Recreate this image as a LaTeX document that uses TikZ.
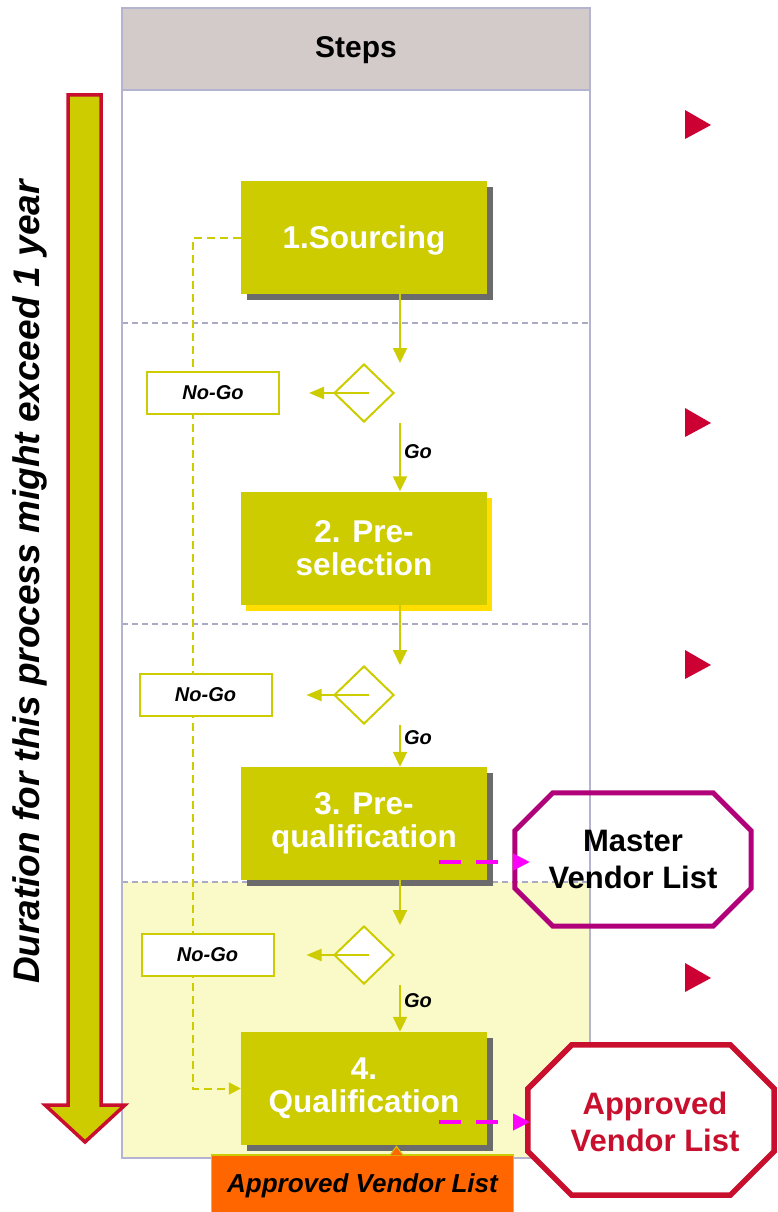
\documentclass[tikz,border=0pt]{standalone}
\usepackage{fontspec}
\setmainfont{Liberation Sans}
\usetikzlibrary{shapes.geometric,arrows.meta,calc,shadows}

\definecolor{olive}{RGB}{204,204,0}
\definecolor{goldshadow}{RGB}{255,222,0}
\definecolor{paleyellow}{RGB}{250,250,200}
\definecolor{headgray}{RGB}{211,202,202}
\definecolor{frameblue}{RGB}{180,180,208}
\definecolor{sepblue}{RGB}{170,170,196}
\definecolor{crimson}{RGB}{200,16,46}
\definecolor{plum}{RGB}{176,0,122}
\definecolor{hotpink}{RGB}{255,0,255}
\definecolor{tangerine}{RGB}{255,102,0}
\definecolor{markred}{RGB}{204,0,51}

\begin{document}
\begin{tikzpicture}[x=1pt,y=-1pt,
  stepbox/.style={fill=olive, text=white, minimum width=246pt, minimum height=113pt,
    inner sep=0pt, align=center, font=\fontsize{31.5}{33}\selectfont\bfseries},
  grayshade/.style={drop shadow={shadow xshift=6pt, shadow yshift=-6pt, fill=black!58, opacity=1}},
  goldshade/.style={drop shadow={shadow xshift=5pt, shadow yshift=-6pt, fill=goldshadow, opacity=1}},
  decision/.style={diamond, draw=olive, line width=2pt, fill=white,
    minimum width=60pt, minimum height=58pt, inner sep=0pt},
  nogo/.style={draw=olive, line width=2pt, fill=white, minimum width=132pt,
    minimum height=42pt, inner sep=0pt, font=\fontsize{20}{22}\selectfont\bfseries\itshape},
  golabel/.style={font=\fontsize{20}{22}\selectfont\bfseries\itshape, right, inner sep=3pt},
  flowline/.style={draw=olive, line width=2pt, -{Triangle[length=15pt,width=14pt]}},
  sideline/.style={draw=olive, line width=2pt, -{Triangle[length=15pt,width=12pt]}},
  returnline/.style={draw=olive, line width=2pt, dash pattern=on 8pt off 5pt,
    -{Triangle[length=12pt,width=12pt]}},
  linkarrow/.style={draw=hotpink, line width=4pt, dash pattern=on 22pt off 15pt,
    -{Triangle[length=17pt,width=16pt]}},
  listlabel/.style={minimum width=236pt, minimum height=133pt, inner sep=0pt, align=center,
    font=\fontsize{31}{37}\selectfont\bfseries},
  separator/.style={draw=sepblue, line width=1.8pt, dash pattern=on 6pt off 4pt},
  marker/.style={fill=markred},
]
\useasboundingbox (0,0) rectangle (777,1212);

% steps column
\fill[paleyellow] (122,882) rectangle (590,1158);
\fill[headgray] (122,8) rectangle (590,90);
\draw[separator] (122,323) -- (590,323);
\draw[separator] (122,624) -- (590,624);
\draw[separator] (122,882) -- (590,882);
\draw[frameblue, line width=2.2pt] (122,90) -- (590,90);
\draw[frameblue, line width=2.2pt] (122,8) rectangle (590,1158);
\node[font=\fontsize{30}{32}\selectfont\bfseries] (head) at (356,50) {Steps};

% duration arrow
\draw[crimson, line width=3.5pt, fill=olive, line join=miter]
  (68,95) -- (101,95) -- (101,1105) -- (125,1105) -- (85,1142) -- (45,1105) -- (68,1105) -- cycle;
\node[rotate=90, font=\fontsize{37}{40}\selectfont\bfseries\itshape] (dur) at (30,582)
  {Duration for this process might exceed 1 year};

% side markers
\fill[marker] (685,110) -- (711,125) -- (685,139) -- cycle;
\fill[marker] (685,408) -- (711,423) -- (685,437) -- cycle;
\fill[marker] (685,650) -- (711,665) -- (685,679) -- cycle;
\fill[marker] (685,963) -- (711,978) -- (685,992) -- cycle;

% node placement
\node[stepbox, grayshade] (s1) at (364,237.5) {\raisebox{0pt}[\height][0pt]{1.Sourcing}};
\node[stepbox, goldshade] (s2) at (364,548) {2. Pre-\\selection};
\node[stepbox, grayshade] (s3) at (364,823.5) {3. Pre-\\qualification};
\node[stepbox, grayshade] (s4) at (364,1088.5) {4.\\Qualification};

\node[decision] (d1) at (364,393) {};
\node[decision] (d2) at (364,695) {};
\node[decision] (d3) at (364,955) {};

% return path for rejected vendors
\coordinate (r) at (193,237.5);
\draw[returnline] (s1.west) -- (r) |- (s4.west);

\node[nogo] (n1) at (213,393) {No-Go};
\node[nogo] (n2) at (205.5,695) {No-Go};
\node[nogo] (n3) at (207.5,955) {No-Go};

% main flow
\draw[flowline] ([xshift=36pt]s1.south) -- ([xshift=36pt]s1.south |- d1.north);
\draw[flowline] ([xshift=36pt]d1.south) -- node[golabel, pos=0.42] {Go} ([xshift=36pt]s2.north);
\draw[flowline] ([xshift=36pt]s2.south) -- ([xshift=36pt]s2.south |- d2.north);
\draw[flowline] ([xshift=36pt]d2.south) -- node[golabel, pos=0.3] {Go} ([xshift=36pt]s3.north);
\draw[flowline] ([xshift=36pt]s3.south) -- ([xshift=36pt]s3.south |- d3.north);
\draw[flowline] ([xshift=36pt]d3.south) -- node[golabel, pos=0.33] {Go} ([xshift=36pt]s4.north);

\draw[sideline] ($(d1.center)+(5,0)$) -- ($(n1.east)+(29,0)$);
\draw[sideline] ($(d2.center)+(5,0)$) -- ($(n2.east)+(34,0)$);
\draw[sideline] ($(d3.center)+(5,0)$) -- ($(n3.east)+(32,0)$);

% vendor lists
\node[listlabel] (mvl) at (633,859.5) {Master\\Vendor List};
\draw[plum, line width=5pt, line join=miter]
  ([xshift=38pt]mvl.north west) -- ([xshift=-38pt]mvl.north east)
  -- ([yshift=-38pt]mvl.north east) -- ([yshift=38pt]mvl.south east)
  -- ([xshift=-38pt]mvl.south east) -- ([xshift=38pt]mvl.south west)
  -- ([yshift=38pt]mvl.south west) -- ([yshift=-38pt]mvl.north west) -- cycle;

\node[listlabel, minimum width=246pt, minimum height=150pt] (avl) at (651,1120) {};
\draw[crimson, line width=5.5pt, fill=white, line join=miter]
  ([xshift=44pt]avl.north west) -- ([xshift=-44pt]avl.north east)
  -- ([yshift=-44pt]avl.north east) -- ([yshift=44pt]avl.south east)
  -- ([xshift=-44pt]avl.south east) -- ([xshift=44pt]avl.south west)
  -- ([yshift=44pt]avl.south west) -- ([yshift=-44pt]avl.north west) -- cycle;
\node[text=crimson, align=center, font=\fontsize{31}{37}\selectfont\bfseries] (avltext)
  at (655,1122) {Approved\\Vendor List};

\draw[linkarrow] ([xshift=75pt,yshift=-38.5pt]s3.center) -- ([xshift=-103pt,yshift=-2.5pt]mvl.center);
\draw[linkarrow] ([xshift=75pt,yshift=-33.5pt]s4.center) -- ([xshift=-121pt,yshift=-2pt]avl.center);

% output callout
\node[fill=tangerine, draw=olive, line width=1.5pt, minimum width=302pt, minimum height=62pt,
  inner sep=0pt, font=\fontsize{26}{28}\selectfont\bfseries\itshape] (out) at (362.5,1186)
  {\raisebox{3pt}{Approved Vendor List}};
\fill[tangerine] ([xshift=28pt,yshift=-1pt]out.north) -- ([xshift=34pt,yshift=8pt]out.north)
  -- ([xshift=40pt,yshift=-1pt]out.north) -- cycle;
\draw[olive, line width=1pt] ([xshift=28pt]out.north) -- ([xshift=34pt,yshift=8pt]out.north)
  -- ([xshift=40pt]out.north);
\end{tikzpicture}
\end{document}
